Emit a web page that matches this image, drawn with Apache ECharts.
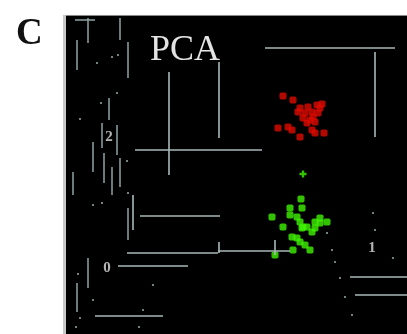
<!DOCTYPE html>
<html>
<head>
<meta charset="utf-8">
<script src="https://cdn.jsdelivr.net/npm/echarts@6/dist/echarts.min.js"></script>
<style>
  html, body { margin: 0; padding: 0; background: #fff; }
  #chart { width: 407px; height: 334px; }
</style>
</head>
<body>
<div id="chart"></div>
<script>
// PCA score projection: two sample groups in the plane of the first components.
// Plot frame units: x 0..344, y 0..319 (y grows downward).
const groupA = [ // red group
  [220, 81], [230, 85], [237, 93], [245, 92], [254, 90], [259, 89],
  [242, 98], [249, 97], [255, 98], [240, 103], [247, 105], [252, 107],
  [244, 108], [215, 113], [225, 112], [229, 115], [237, 122], [249, 115],
  [252, 118], [261, 118], [235, 97], [250, 102], [257, 93]
];
const groupB = [ // green group
  [238, 184], [227, 193], [239, 193], [227, 200], [209, 202], [234, 202],
  [237, 207], [220, 212], [239, 213], [244, 212], [252, 207], [257, 203],
  [264, 207], [252, 213], [249, 217], [229, 222], [237, 227], [242, 230],
  [247, 235], [230, 235], [212, 240], [234, 223], [257, 208], [240, 212]
];
const groupBOutlier = [[240, 159]];

// Projected box edges of the 3D frame
const frameEdges = [
  [[72, 135], [199, 135]],
  [[106, 57], [106, 160]],
  [[156, 47], [156, 123]],
  [[202, 33], [332, 33]],
  [[312, 37], [312, 122]],
  [[77, 201], [157, 201]],
  [[70, 180], [70, 215]],
  [[64, 238], [155, 238]],
  [[155, 236], [227, 236]],
  [[156, 227], [156, 238]],
  [[55, 251], [125, 251]],
  [[287, 262], [344, 262]],
  [[292, 280], [344, 280]],
  [[32, 301], [100, 301]],
  [[212, 225], [212, 240]]
];
// Short rulings on the left wall
const wallRulings = [
  [[25, 3], [25, 28]],
  [[57, 3], [57, 25]],
  [[12, 5], [32, 5]],
  [[14, 25], [14, 55]],
  [[65, 27], [65, 63]],
  [[46, 83], [46, 105]],
  [[39, 108], [39, 133]],
  [[30, 127], [30, 157]],
  [[41, 138], [41, 168]],
  [[54, 110], [54, 140]],
  [[49, 152], [49, 180]],
  [[57, 143], [57, 172]],
  [[10, 157], [10, 180]],
  [[65, 193], [65, 225]],
  [[25, 243], [25, 273]],
  [[14, 268], [14, 297]]
];
// Dotted perspective guides
const guideDots = [
  [34, 48], [55, 40], [49, 42], [38, 88], [54, 78], [17, 104], [30, 190],
  [64, 146], [39, 188], [65, 178], [15, 259], [30, 285], [17, 303],
  [13, 312], [76, 312], [80, 295], [90, 270], [264, 218], [269, 235],
  [272, 247], [277, 263], [282, 282], [289, 300], [310, 198], [312, 215],
  [330, 243]
];
// Axis tick labels and where they sit
const tickLabels = ['2', '0', '1'];
const tickAnchors = [[46, 122], [44, 253], [309, 233]];

const segSeries = (segs, color, width) => segs.map(s => ({
  type: 'line',
  data: s,
  symbol: 'none',
  silent: true,
  animation: false,
  lineStyle: { color: color, width: width }
}));

const chart = echarts.init(document.getElementById('chart'), null, { renderer: 'canvas' });
chart.setOption({
  backgroundColor: '#ffffff',
  animation: false,
  title: [
    {
      text: 'C', left: 11, top: 11,
      textStyle: { fontFamily: 'Liberation Serif', fontSize: 37, fontWeight: 'bold', color: '#111' }
    },
    {
      text: 'PCA', left: 145, top: 28,
      textStyle: { fontFamily: 'Liberation Serif', fontSize: 36, fontWeight: 'normal', color: '#e4e4e4' }
    }
  ],
  grid: {
    left: 63, top: 15, right: 0, bottom: 0,
    show: true, backgroundColor: '#000', borderWidth: 0
  },
  xAxis: { type: 'value', min: 0, max: 344, show: false },
  yAxis: { type: 'value', min: 0, max: 319, inverse: true, show: false },
  series: [
    {
      type: 'line', data: [[0, 0.4], [344, 0.4]], symbol: 'none', silent: true,
      lineStyle: { color: '#9a9a9a', width: 1 }
    },
    {
      type: 'line', data: [[1.5, 0], [1.5, 319]], symbol: 'none', silent: true,
      lineStyle: { color: '#c8c8c8', width: 3 }
    },
    ...segSeries(frameEdges, '#a9b9b9', 1.6),
    ...segSeries(wallRulings, '#8fa3a3', 1.5),
    {
      type: 'scatter', data: guideDots, symbol: 'rect', symbolSize: 2,
      itemStyle: { color: '#8fa3a3' }, silent: true
    },
    {
      type: 'scatter', data: groupA, symbol: 'roundRect', symbolSize: 7,
      itemStyle: { color: '#dd0a00' }
    },
    {
      type: 'scatter', data: groupB, symbol: 'roundRect', symbolSize: 7,
      itemStyle: { color: '#3ef200' }
    },
    {
      type: 'scatter', data: groupBOutlier,
      symbol: 'path://M2,0h2v2h2v2h-2v2h-2v-2h-2v-2h2z', symbolSize: 7,
      itemStyle: { color: '#3ef200' }
    },
    {
      type: 'scatter', silent: true, symbolSize: 0,
      data: tickAnchors.map((p, i) => ({ value: p, name: tickLabels[i] })),
      label: {
        show: true, position: 'inside', formatter: p => p.name,
        fontFamily: 'Liberation Serif', fontSize: 15, fontWeight: 'bold', color: '#e0e0e0'
      }
    }
  ]
});
</script>
</body>
</html>
